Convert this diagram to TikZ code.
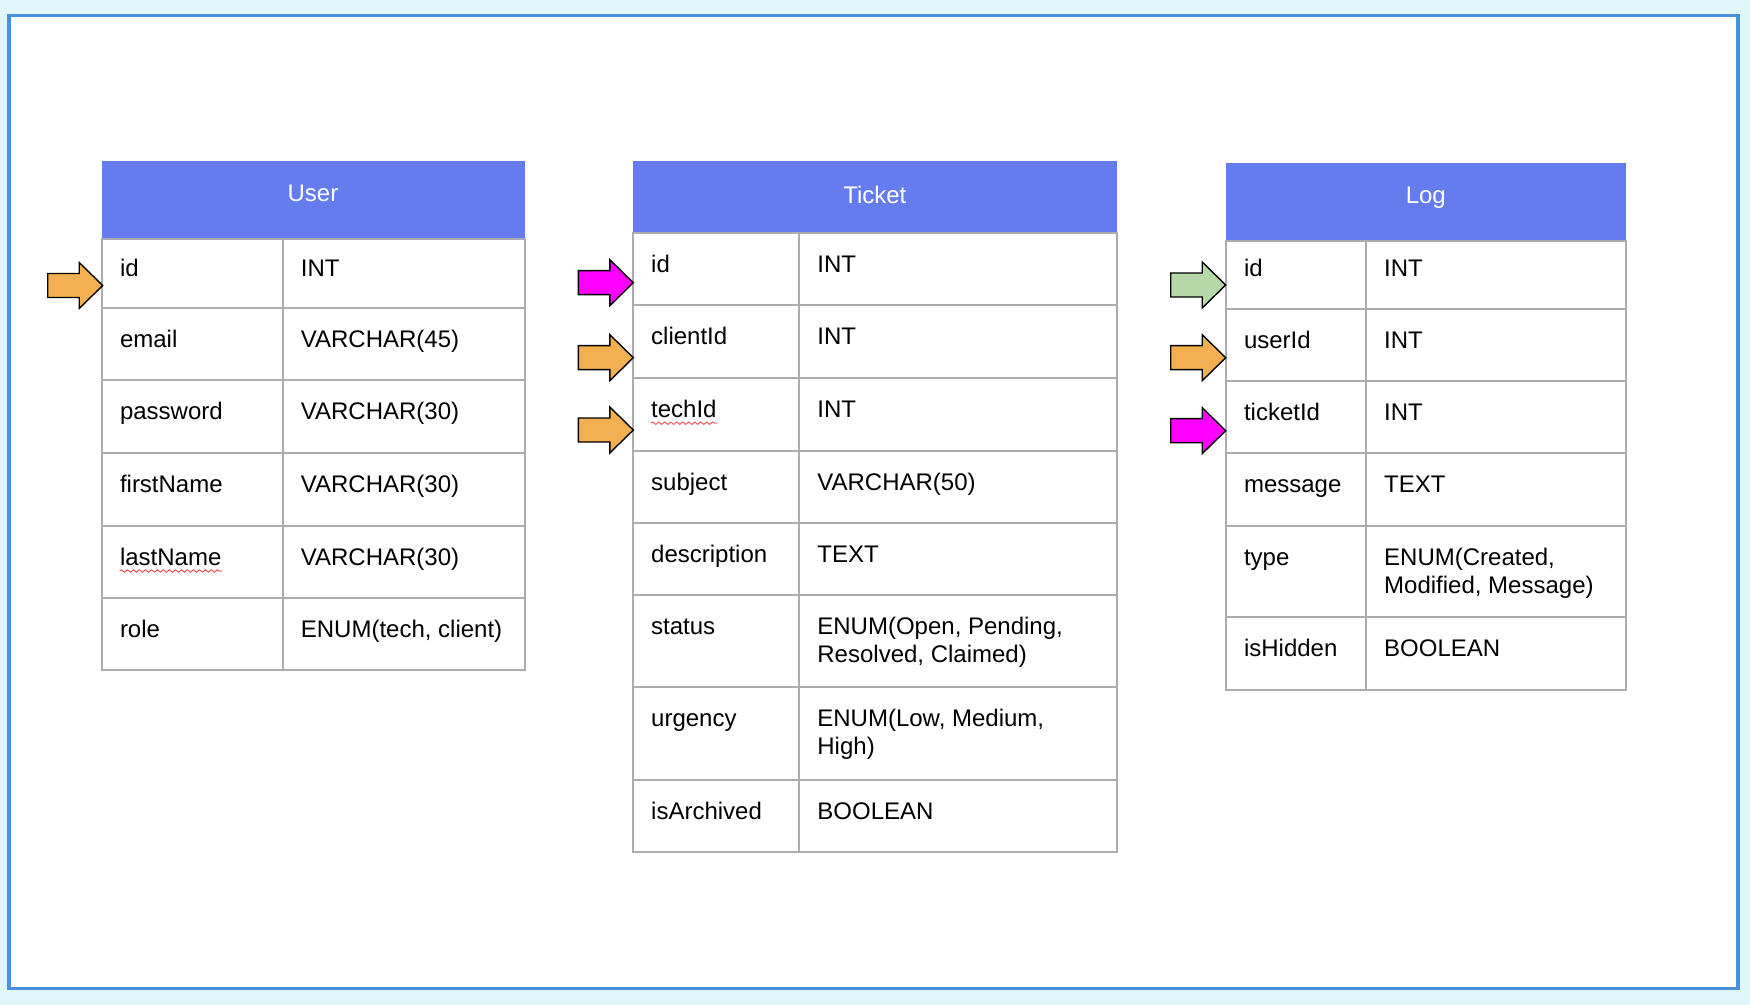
\documentclass[tikz,border=0pt]{standalone}
\usepackage{fontspec}
\setmainfont{Liberation Sans}
\usetikzlibrary{positioning,decorations.pathmorphing}
\definecolor{fondo}{RGB}{225,246,250}
\definecolor{marco}{RGB}{74,144,226}
\definecolor{cabecera}{RGB}{101,124,238}
\definecolor{rejilla}{RGB}{172,172,172}
\definecolor{naranja}{RGB}{244,176,80}
\definecolor{fucsia}{RGB}{255,0,255}
\definecolor{verde}{RGB}{182,215,168}
\definecolor{corrector}{RGB}{235,90,90}
\tikzstyle{celda}=[draw=rejilla, line width=1pt]
\tikzstyle{campo}=[anchor=base west, inner sep=0pt,
                   font=\fontsize{12}{14}\selectfont]
\tikzstyle{titulo}=[anchor=base, inner sep=0pt, text=white,
                    font=\fontsize{12}{14}\selectfont]
\tikzstyle{fk}=[draw=black, line width=0.7pt, line join=miter]
\tikzstyle{squiggle}=[corrector, line width=0.5pt, decorate,
                      decoration={snake, amplitude=0.6pt, segment length=3pt}]
\begin{document}
\begin{tikzpicture}[x=0.5pt,y=-0.5pt]
    \fill[fondo] (0,0) rectangle (1750,1005);
    \draw[marco, fill=white, line width=1.75pt] (9,15.5) rectangle (1738,988.5);

    % User
    \fill[cabecera] (101.6,160.7) rectangle (524.5,238.8);
    \node[titulo] (user) at (313,201.7) {User};
    \foreach \t/\b/\k/\v [count=\n] in {238.8/308.3/id/INT, 308.3/380.5/email/VARCHAR(45),
        380.5/453/password/VARCHAR(30), 453/525.5/firstName/VARCHAR(30),
        525.5/598/lastName/VARCHAR(30), {598/669.7/role/ENUM(tech, client)}}{
        \pgfmathsetmacro\o{\n==1 ? 37.5 : 39.5}
        \draw[celda] (101.6,\t) rectangle (282.5,\b) (282.5,\t) rectangle (524.5,\b);
        \node[campo] (user-k\n) at (119.6,\t+\o) {\k};
        \node[campo] (user-v\n) at (300.5,\t+\o) {\v};
    }

    % Ticket
    \fill[cabecera] (632.8,160.7) rectangle (1116.8,233.5);
    \node[titulo] (ticket) at (874.8,203.5) {Ticket};
    \foreach \t/\b/\k/\v [count=\n] in {233.5/305.5/id/INT, 305.5/377.7/clientId/INT,
        377.7/450.5/techId/INT, 450.5/522.8/subject/VARCHAR(50),
        522.8/595/description/TEXT, {595/687.3/status/ENUM(Open, Pending,\\Resolved, Claimed)},
        {687.3/780/urgency/ENUM(Low, Medium,\\High)}, 780/852.3/isArchived/BOOLEAN}{
        \draw[celda] (632.8,\t) rectangle (799,\b) (799,\t) rectangle (1116.8,\b);
        \node[campo] (ticket-k\n) at (650.8,\t+39.5) {\k};
        \node[campo] (ticket-v\n) at (817,\t+39.5)
            {\begin{tabular}[t]{@{}l@{}}\v\end{tabular}};
    }

    % Log
    \fill[cabecera] (1225.6,163) rectangle (1626,241);
    \node[titulo] (log) at (1425.8,203.5) {Log};
    \foreach \t/\b/\k/\v [count=\n] in {241/308.7/id/INT, 308.7/381/userId/INT,
        381/453.3/ticketId/INT, 453.3/525.6/message/TEXT,
        {525.6/617/type/ENUM(Created,\\Modified, Message)}, 617/689.7/isHidden/BOOLEAN}{
        \pgfmathsetmacro\o{\n==1 ? 36 : 39.5}
        \draw[celda] (1225.6,\t) rectangle (1365.8,\b) (1365.8,\t) rectangle (1626,\b);
        \node[campo] (log-k\n) at (1243.6,\t+\o) {\k};
        \node[campo] (log-v\n) at (1383.8,\t+\o)
            {\begin{tabular}[t]{@{}l@{}}\v\end{tabular}};
    }

    \draw[squiggle] ([yshift=-3pt]user-k5.base west) -- ([yshift=-3pt]user-k5.base east);
    \draw[squiggle] ([yshift=-3pt]ticket-k3.base west) -- ([yshift=-3pt]ticket-k3.base east);

    % foreign keys
    \foreach \n/\x/\y/\c in {fk1/102.7/285.5/naranja, fk2/633.3/282.7/fucsia,
        fk3/633.3/357.7/naranja, fk4/633.3/430/naranja, fk5/1225.7/285/verde,
        fk6/1225.7/357.7/naranja, fk7/1225.7/430.7/fucsia}
        \draw[fk, fill=\c] (\x,\y) coordinate (\n) -- ++(-23.5,-23) -- ++(0,11)
            -- ++(-31.5,0) -- ++(0,24) -- ++(31.5,0) -- ++(0,11) -- cycle;
\end{tikzpicture}
\end{document}
